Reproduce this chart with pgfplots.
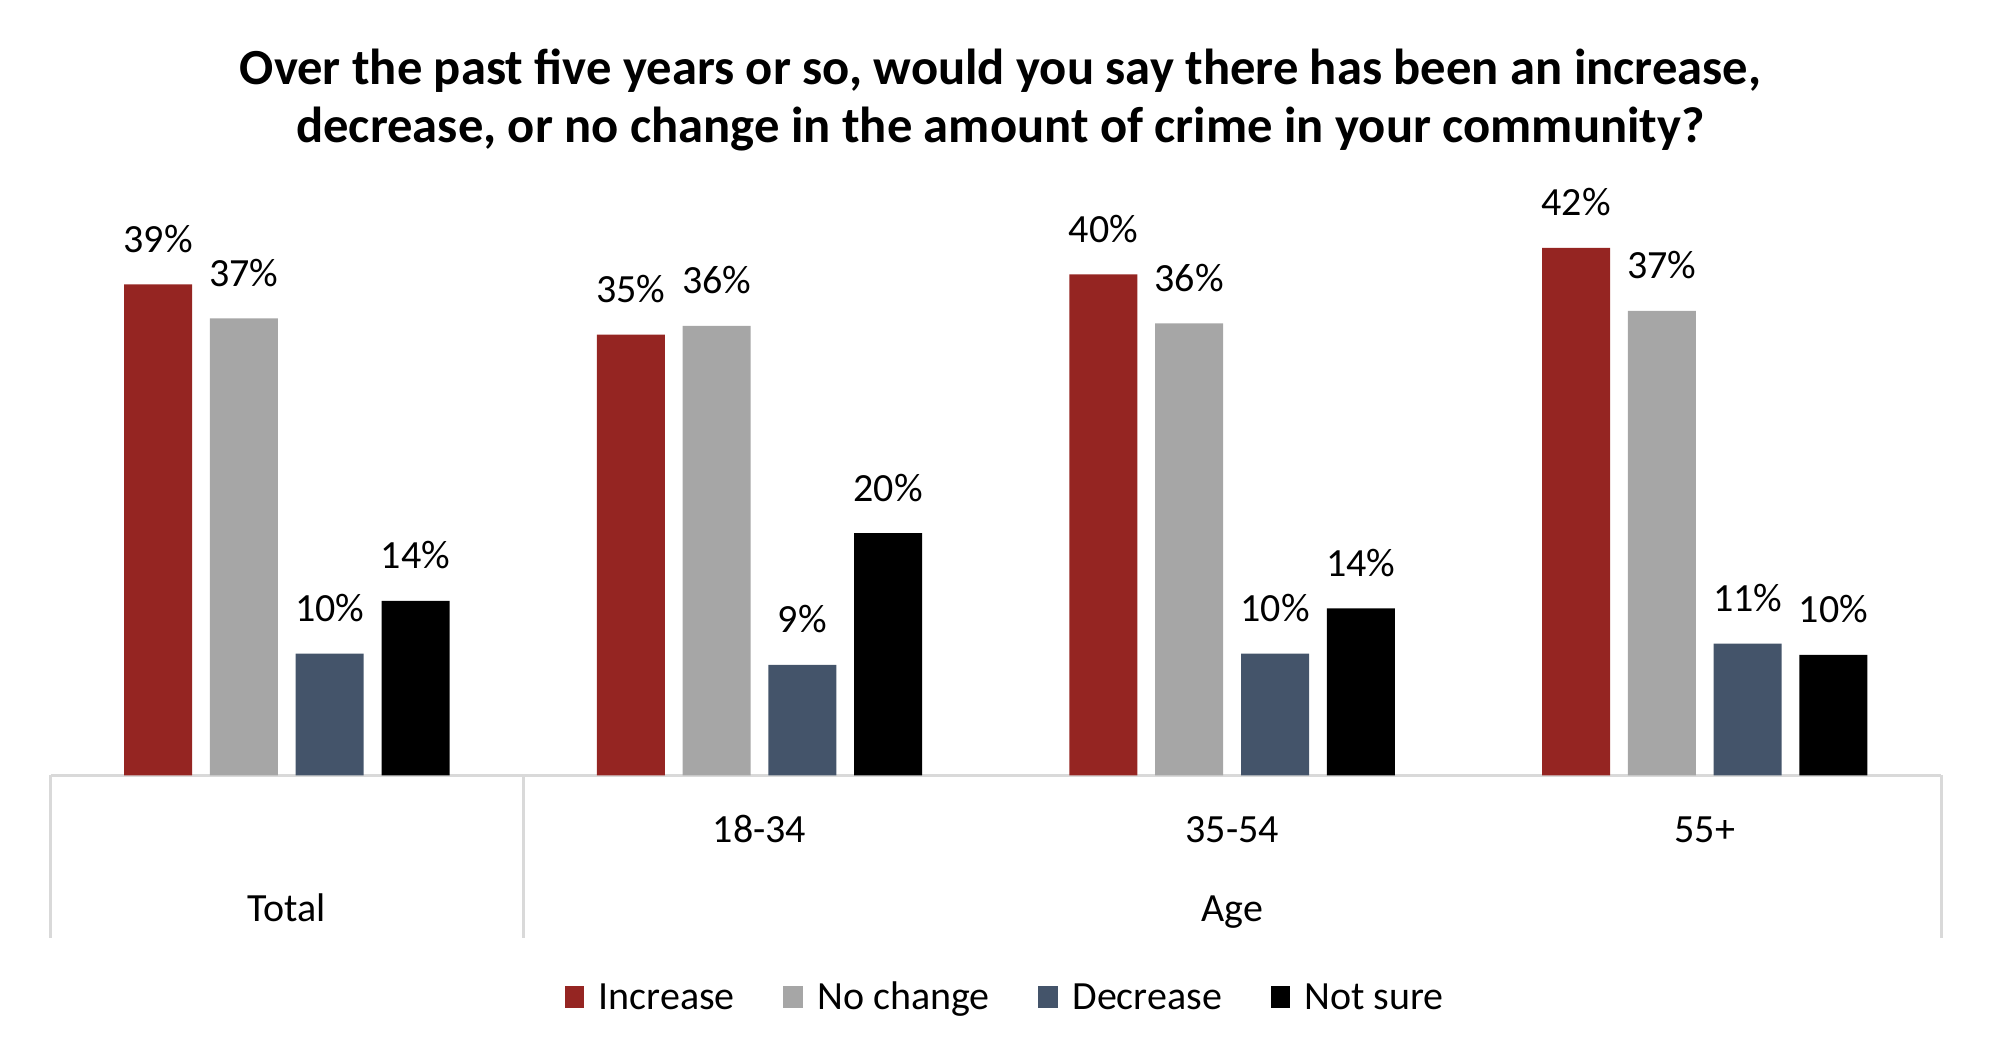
\documentclass[border=0pt]{standalone}
\usepackage{pgfplots}
\pgfplotsset{compat=1.18}
\usepackage{pgfplotstable}
\usepackage{fontspec}
\setmainfont{Carlito}

\definecolor{cinc}{RGB}{149,37,34}
\definecolor{cnoc}{RGB}{166,166,166}
\definecolor{cdec}{RGB}{68,84,106}
\definecolor{cnot}{RGB}{0,0,0}
\definecolor{cframe}{RGB}{217,217,217}
\newcommand{\lbl}{\fontsize{20}{24}\selectfont}

% x: 0 = Total, 1 = 18-34, 2 = 35-54, 3 = 55+
\pgfplotstableread{
x y lab
0 39.1 39
1 35.1 35
2 39.9 40
3 42.0 42
}\tinc
\pgfplotstableread{
x y lab
0 36.4 37
1 35.8 36
2 36.0 36
3 37.0 37
}\tnoc
\pgfplotstableread{
x y lab
0 9.7 10
1 8.8 9
2 9.7 10
3 10.5 11
}\tdec
\pgfplotstableread{
x y lab
0 13.9 14
1 19.3 20
2 13.3 14
3 9.6 10
}\tnot

\begin{document}
\begin{tikzpicture}
\path[use as bounding box] (0,0) rectangle (995.5pt,532pt);
\begin{axis}[
    at={(25.25pt,144.25pt)}, anchor=south west,
    scale only axis,
    width=945.3pt, height=282.6pt,
    xmin=-0.5, xmax=3.5,
    ymin=0, ymax=45,
    ybar=8.9pt, bar width=34pt,
    axis x line=bottom, axis y line=none,
    x axis line style={draw=cframe, line width=1.5pt, -},
    ytick=\empty,
    xtick={1,2,3},
    xticklabels={18-34,35-54,55+},
    major tick length=0pt,
    xticklabel style={font=\lbl, anchor=base, yshift=-33.6pt},
    extra x ticks={0,2},
    extra x tick labels={Total,Age},
    extra x tick style={xticklabel style={yshift=-39.6pt}},
    point meta=explicit symbolic,
    nodes near coords={\pgfplotspointmeta\%},
    every node near coord/.append style={font=\lbl, anchor=base, yshift=16pt, inner sep=0pt},
    clip=false,
    legend columns=4,
    legend style={draw=none, fill=none, at={(0.5045,-0.3919)}, anchor=center,
        font=\lbl, inner sep=0pt,
        nodes={inner sep=0pt, text height=12.6pt, text depth=0pt},
        /tikz/every even column/.append style={column sep=24.3pt}},
    legend image code/.code={\fill[#1] (0pt,-5.5pt) rectangle (9.8pt,5.5pt); \path (17pt,0pt);},
]
\addplot[fill=cinc, draw=none] table[x=x, y=y, meta=lab] {\tinc};
\addlegendentry{Increase}
\addplot[fill=cnoc, draw=none] table[x=x, y=y, meta=lab] {\tnoc};
\addlegendentry{No change}
\addplot[fill=cdec, draw=none] table[x=x, y=y, meta=lab] {\tdec};
\addlegendentry{Decrease}
\addplot[fill=cnot, draw=none] table[x=x, y=y, meta=lab] {\tnot};
\addlegendentry{Not sure}

% category frame below the axis
\draw[cframe, line width=1.5pt] (axis cs:-0.5,0) -- (axis cs:-0.5,-12.9);
\draw[cframe, line width=1.5pt] (axis cs:0.5,0) -- (axis cs:0.5,-12.9);
\draw[cframe, line width=1.5pt] (axis cs:3.5,0) -- (axis cs:3.5,-12.9);
\end{axis}
\node[anchor=base, font=\fontsize{25.3}{30}\selectfont\bfseries] at (500.25pt,489.5pt)
    {Over the past five years or so, would you say there has been an increase,};
\node[anchor=base, font=\fontsize{25.3}{30}\selectfont\bfseries] at (500.25pt,460.5pt)
    {decrease, or no change in the amount of crime in your community?};
\end{tikzpicture}
\end{document}
